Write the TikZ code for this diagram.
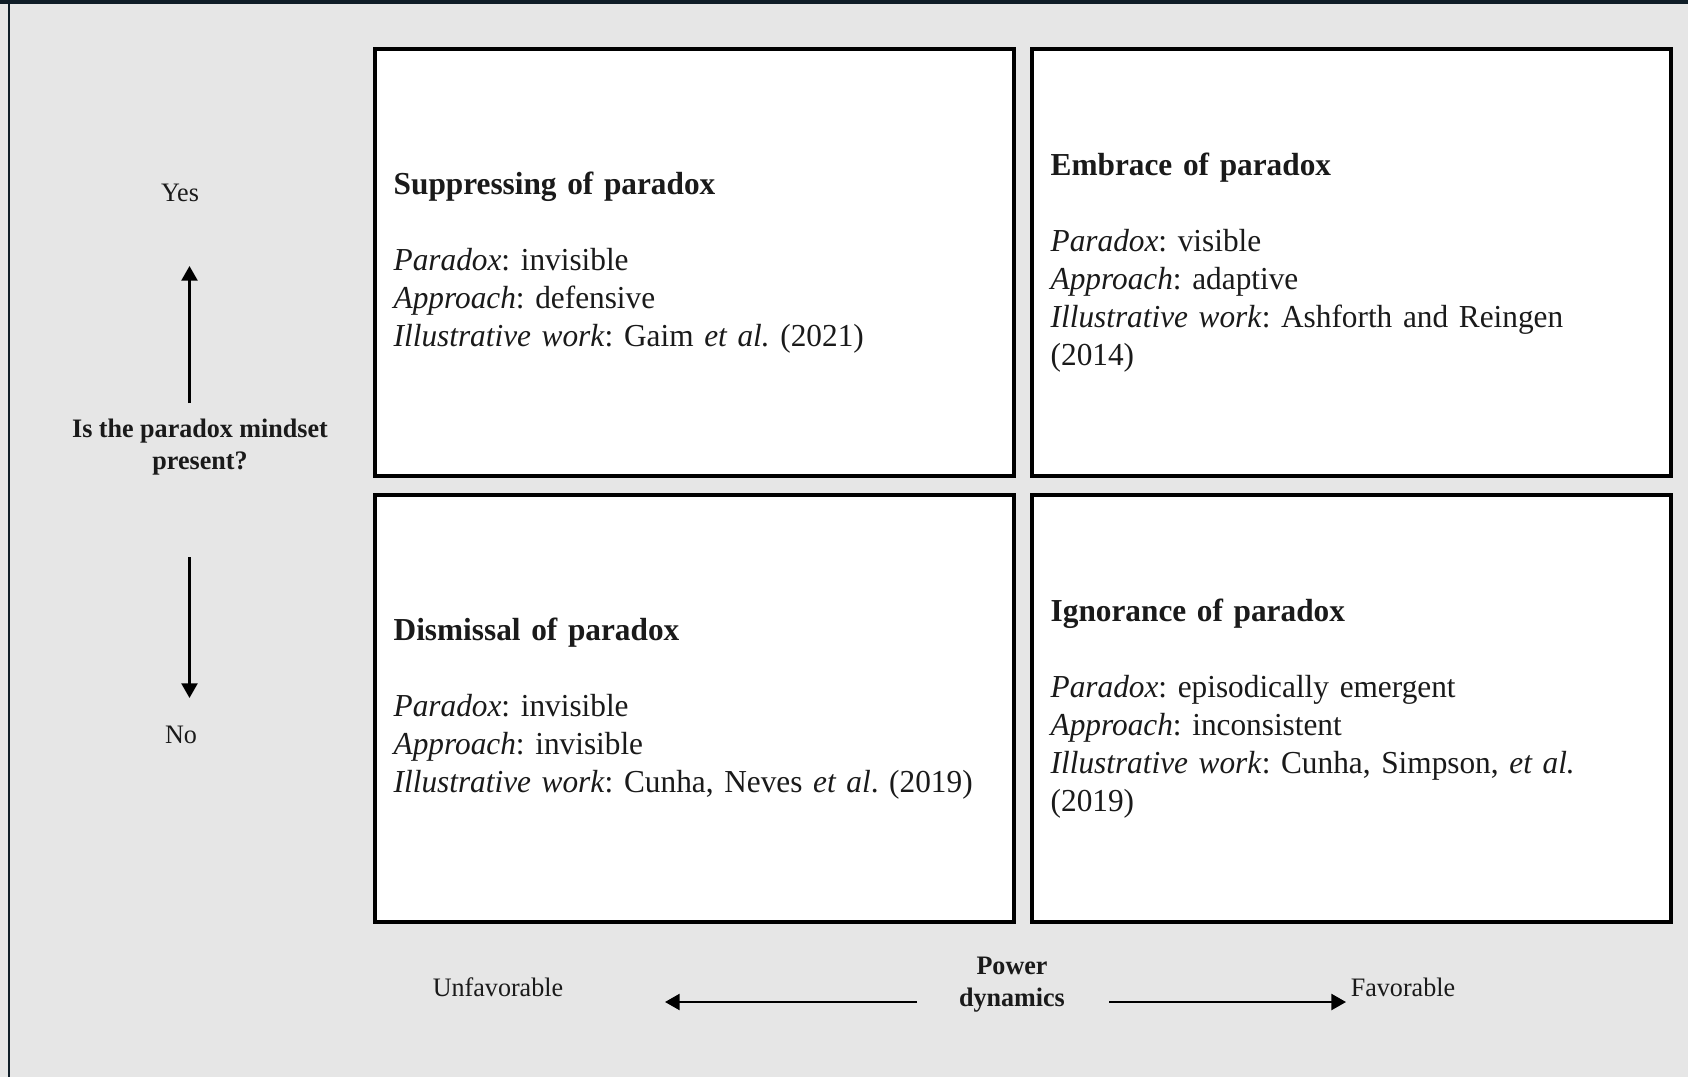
\documentclass[tikz,border=0pt]{standalone}
\usepackage{fontspec}
\setmainfont{Liberation Serif}[FakeStretch=0.978]
\frenchspacing
\usetikzlibrary{arrows.meta}
\definecolor{panel}{HTML}{E6E6E6}
\definecolor{frame}{HTML}{0F1D27}
\definecolor{ink}{HTML}{1A1A1A}

\begin{document}
\begin{tikzpicture}
    [x=0.375pt, y=-0.375pt,
     quadrant/.style={draw=black, line width=1.5pt, fill=white, text=ink,
       minimum width=239.6pt, minimum height=160pt, text width=225.6pt,
       inner xsep=7pt, align=left, font=\fontsize{12}{14.3}\selectfont},
     axis label/.style={text=ink, align=center, font=\fontsize{10}{12}\selectfont},
     axis arrow/.style={-{Triangle[length=5.5pt, width=6pt]}, line width=0.9pt}]
    \useasboundingbox (0, 0) rectangle (1688, 1077);
    \fill[panel] (0, 0) rectangle (1688, 1077);
    \fill[frame] (0, 0) rectangle (1688, 3.5);
    \draw[frame, line width=0.75pt] (8.5, 3.5) -- (8.5, 1077);
    \node[quadrant] (suppress) at (694.5, 262.5) {\textbf{Suppressing of paradox}\\[14.3pt]
      \textit{Paradox}: invisible\\
      \textit{Approach}: defensive\\
      \textit{Illustrative work}: Gaim \textit{et al.} (2021)};
    \node[quadrant] (embrace) at (1351.5, 262.5) {\textbf{Embrace of paradox}\\[14.3pt]
      \textit{Paradox}: visible\\
      \textit{Approach}: adaptive\\
      \textit{Illustrative work}: Ashforth and Reingen\\
      (2014)};
    \node[quadrant] (dismiss) at (694.5, 708.5) {\textbf{Dismissal of paradox}\\[14.3pt]
      \textit{Paradox}: invisible\\
      \textit{Approach}: invisible\\
      \textit{Illustrative work}: Cunha, Neves \textit{et al}. (2019)};
    \node[quadrant] (ignore) at (1351.5, 708.5) {\textbf{Ignorance of paradox}\\[14.3pt]
      \textit{Paradox}: episodically emergent\\
      \textit{Approach}: inconsistent\\
      \textit{Illustrative work}: Cunha, Simpson, \textit{et al.}\\
      (2019)};
    \node[axis label] (yes) at (180, 193) {Yes};
    \node[axis label] (mindset) at (200, 447) {\textbf{Is the paradox mindset}\\\textbf{present?}};
    \node[axis label] (no) at (181, 735) {No};
    \node[axis label] (unfav) at (498, 987) {Unfavorable};
    \node[axis label] (power) at (1012, 985) {\textbf{Power}\\\textbf{dynamics}};
    \node[axis label] (fav) at (1403, 987) {Favorable};
    \coordinate (up tail) at (189.5, 403);
    \coordinate (up head) at (189.5, 266);
    \coordinate (down tail) at (189.5, 557);
    \coordinate (down head) at (189.5, 698);
    \coordinate (left tail) at (917, 1002);
    \coordinate (left head) at (665, 1002);
    \coordinate (right tail) at (1109, 1002);
    \coordinate (right head) at (1346, 1002);
    \draw[axis arrow] (up tail) -- (up head);
    \draw[axis arrow] (down tail) -- (down head);
    \draw[axis arrow] (left tail) -- (left head);
    \draw[axis arrow] (right tail) -- (right head);
\end{tikzpicture}
\end{document}
